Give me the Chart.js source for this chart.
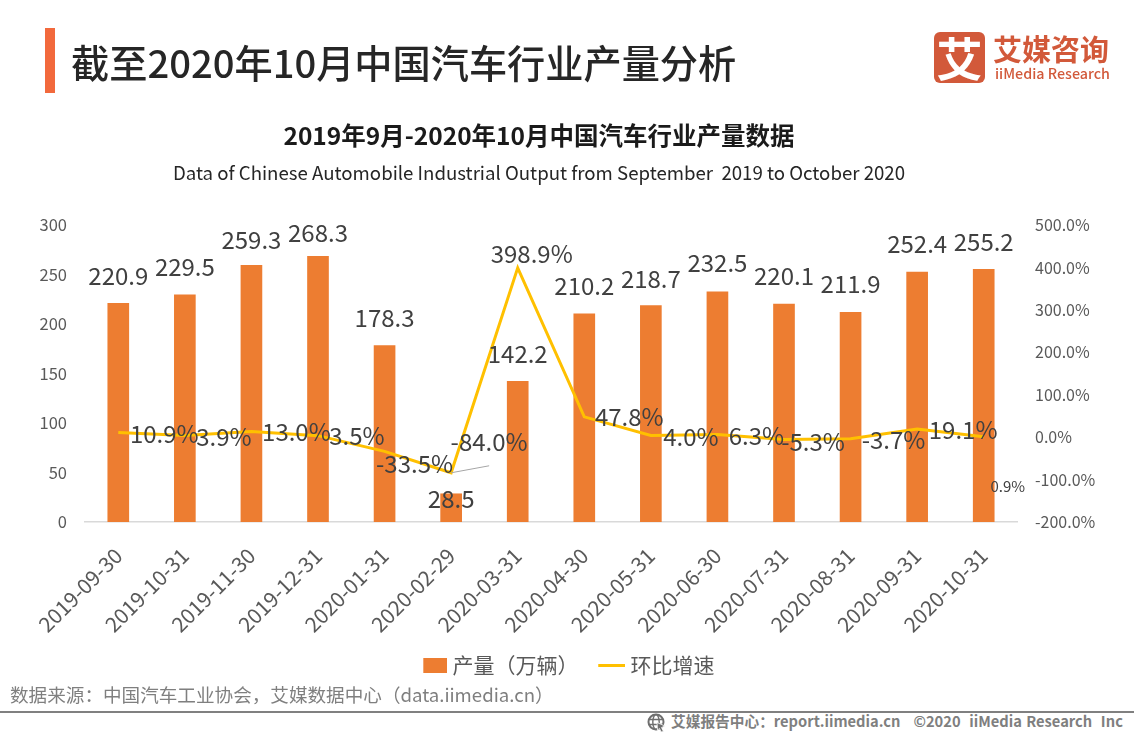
<!DOCTYPE html>
<html><head><meta charset="utf-8">
<script src="https://cdn.jsdelivr.net/npm/chart.js@4"></script>
<style>
html,body{margin:0;padding:0;background:#fff;width:1134px;height:737px;overflow:hidden;font-family:"Noto Sans CJK SC","Noto Sans",sans-serif}
#wrap{position:absolute;left:0;top:0;width:1134px;height:737px}
canvas{position:absolute;left:0;top:0}
.t{position:absolute;white-space:nowrap;line-height:1}
</style></head><body>
<div id="wrap">
<canvas id="c" width="1134" height="686" style="width:1134px;height:686px"></canvas>
<div style="position:absolute;left:45px;top:28px;width:10px;height:65px;background:#f2693c"></div>
<div class="t" style="left:71px;top:43px;font-size:38.2px;font-weight:500;color:#262626">截至2020年10月中国汽车行业产量分析</div>
<div class="t" style="left:0;width:1078px;text-align:center;top:123px;font-size:24.5px;font-weight:700;color:#1a1a1a">2019年9月-2020年10月中国汽车行业产量数据</div>
<div class="t" style="left:0;width:1078px;text-align:center;top:163px;font-size:18.65px;color:#262626">Data of Chinese Automobile Industrial Output from September&nbsp; 2019 to October 2020</div>
<div style="position:absolute;left:934px;top:32px;width:51px;height:51px;border-radius:6px;background:#d2593a"></div>
<div class="t" style="left:934px;top:33px;width:51px;text-align:center;font-size:46px;font-weight:700;color:#fff">艾</div>
<div class="t" style="left:993px;top:34px;font-size:29px;font-weight:700;color:#d2593a">艾媒咨询</div>
<div class="t" style="left:995px;top:66px;font-size:14.3px;font-weight:500;color:#d2593a">iiMedia Research</div>
<div class="t" style="left:10px;top:685px;font-size:18.6px;color:#7f7f7f">数据来源：中国汽车工业协会，艾媒数据中心（data.iimedia.cn）</div>
<div style="position:absolute;left:0;top:711px;width:1134px;height:2px;background:#808080"></div>
<svg style="position:absolute;left:647px;top:713px" width="20" height="20" viewBox="0 0 20 20" fill="none" stroke="#6e6e6e" stroke-width="2"><circle cx="9" cy="9" r="7.5"/><ellipse cx="9" cy="9" rx="3.2" ry="7.5" stroke-width="1.4"/><path d="M2 6.5H16M2 11.5H16" stroke-width="1.4"/><path d="M10 9.5L18 13L14.5 14.5L16.5 18.5L14 19L12.5 15.5L10.5 17Z" fill="#6e6e6e" stroke="#fff" stroke-width=".8"/></svg>
<div class="t" style="left:671px;top:714px;font-size:14.7px;font-weight:700;color:#7f7f7f;word-spacing:1px">艾媒报告中心：report.iimedia.cn&nbsp; &nbsp;©2020&nbsp; iiMedia Research&nbsp; Inc</div>
</div>
<script>
const categories=["2019-09-30","2019-10-31","2019-11-30","2019-12-31","2020-01-31","2020-02-29","2020-03-31","2020-04-30","2020-05-31","2020-06-30","2020-07-31","2020-08-31","2020-09-31","2020-10-31"];
const output=[220.9,229.5,259.3,268.3,178.3,28.5,142.2,210.2,218.7,232.5,220.1,211.9,252.4,255.2];
const growth=[10.9,3.9,13.0,3.5,-33.5,-84.0,398.9,47.8,4.0,6.3,-5.3,-3.7,19.1,0.9];
const leftTicks=[0,50,100,150,200,250,300];
const rightTicks=[-200,-100,0,100,200,300,400,500];

const barLabelDy=[-27,-28,-25,-24,-28,5,-27,-28,-27,-29,-28,-28,-28,-27];
const lineLabelDx=[46,39,45,39,30,38,14,45,40,39,29,43,46,24];
const lineLabelDy=[1,1,0,0,13,-31,-14,0,1,1,2,1,1,50];

// legend swatch: transparent on the left, the coloured part flush right
function swatch(w,h,cw,color){const k=document.createElement('canvas');k.width=w;k.height=h;const x=k.getContext('2d');x.fillStyle=color;x.fillRect(w-cw,0,cw,h);return k;}

const labelsPlugin={id:'valueLabels',afterDatasetsDraw(ch){
  const g=ch.ctx,b=ch.getDatasetMeta(0).data,l=ch.getDatasetMeta(1).data;
  g.save();
  g.strokeStyle='#a6a6a6';g.lineWidth=1;g.beginPath();
  g.moveTo(l[5].x,l[5].y);g.lineTo(l[5].x+38,l[5].y-7);g.stroke();
  g.fillStyle='#404040';g.textAlign='center';g.textBaseline='middle';
  g.font='24px "Noto Sans CJK SC"';
  output.forEach((v,i)=>g.fillText(v.toFixed(1),b[i].x,b[i].y+barLabelDy[i]));
  growth.forEach((v,i)=>{
    g.font=(i===13?'15px':'24px')+' "Noto Sans CJK SC"';
    g.fillText(v.toFixed(1)+'%',l[i].x+lineLabelDx[i],l[i].y+lineLabelDy[i]);
  });
  g.restore();
}};

Chart.defaults.font.family='"Noto Sans CJK SC"';
new Chart(document.getElementById('c'),{
  data:{labels:categories,datasets:[
    {type:'bar',label:'产量（万辆）',data:output,yAxisID:'y',backgroundColor:'#ed7d31',barThickness:21,order:2,pointStyle:swatch(52,15,24,'#ed7d31')},
    {type:'line',label:'环比增速',data:growth,yAxisID:'y1',borderColor:'#ffc000',backgroundColor:'#ffc000',borderWidth:3,tension:0,pointRadius:0,order:1,pointStyle:swatch(52,3,27,'#ffc000')}
  ]},
  plugins:[labelsPlugin],
  options:{
    responsive:false,animation:false,
    layout:{padding:{left:0,right:19,top:225,bottom:0}},
    plugins:{tooltip:{enabled:false},
      legend:{display:true,position:'bottom',labels:{usePointStyle:true,pointStyleWidth:41.5,sort:(a,b)=>a.datasetIndex-b.datasetIndex,color:'#595959',font:{size:21},padding:0,boxHeight:15}}},
    scales:{
      x:{grid:{display:false,drawTicks:false},border:{color:'#d9d9d9',width:1.5},
         afterFit(s){s.height=133;},
         ticks:{color:'#595959',font:{size:21},minRotation:45,maxRotation:45,autoSkip:false,padding:21}},
      y:{position:'left',min:0,max:300,afterFit(s){s.width=85;},
         afterBuildTicks(s){s.ticks=leftTicks.map(value=>({value}));},
         grid:{display:false},border:{display:false},
         ticks:{color:'#595959',font:{size:16.5},padding:10}},
      y1:{position:'right',min:-200,max:500,afterFit(s){s.width=98;},
         afterBuildTicks(s){s.ticks=rightTicks.map(value=>({value}));},
         grid:{display:false},border:{display:false},
         ticks:{color:'#595959',font:{size:16},padding:10,callback:v=>v.toFixed(1)+'%'}}
    }
  }
});
</script>
</body></html>
